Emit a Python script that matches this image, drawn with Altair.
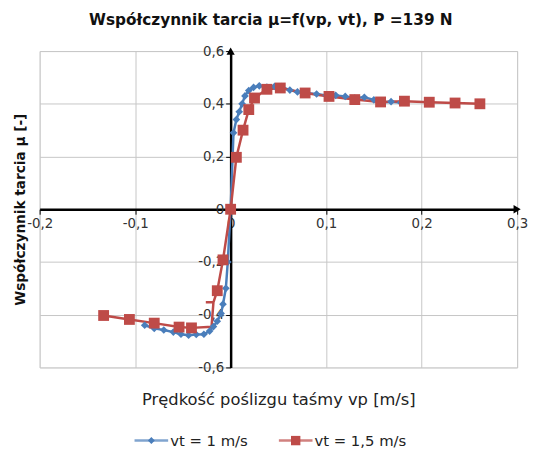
import altair as alt
import pandas as pd

FONT = "DejaVu Sans"

series_names = ["vt = 1 m/s", "vt = 1,5 m/s"]
series_colors = ["#4A7EBB", "#BE4B48"]
series_shapes = ["diamond", "square"]

# vt = 1 m/s
blue_x = [-0.090, -0.080, -0.070, -0.060, -0.052, -0.044, -0.036, -0.028, -0.022, -0.018,
          -0.014, -0.010, -0.008, -0.005, -0.003, 0.000, 0.003, 0.006, 0.009, 0.012,
          0.015, 0.019, 0.024, 0.030, 0.038, 0.046, 0.053, 0.062, 0.070, 0.080,
          0.090, 0.100, 0.110, 0.120, 0.130, 0.140, 0.150, 0.158, 0.168, 0.178]
blue_y = [-0.440, -0.452, -0.458, -0.466, -0.474, -0.478, -0.475, -0.474, -0.462, -0.445,
          -0.425, -0.395, -0.360, -0.300, -0.200, 0.000, 0.290, 0.340, 0.370, 0.400,
          0.430, 0.450, 0.462, 0.468, 0.463, 0.466, 0.465, 0.452, 0.445, 0.440,
          0.437, 0.432, 0.432, 0.428, 0.422, 0.425, 0.415, 0.405, 0.408, 0.405]

# vt = 1,5 m/s
red_x = [-0.133, -0.106, -0.080, -0.054, -0.041, -0.020, -0.018, -0.026, -0.018, -0.014,
         -0.008, 0.000, 0.006, 0.013, 0.019, 0.025, 0.038, 0.052, 0.078, 0.103,
         0.130, 0.157, 0.182, 0.208, 0.235, 0.261]
red_y = [-0.403, -0.418, -0.432, -0.447, -0.450, -0.446, -0.353, -0.353, -0.353, -0.309,
         -0.192, 0.000, 0.197, 0.300, 0.378, 0.422, 0.455, 0.460, 0.441, 0.428,
         0.416, 0.407, 0.410, 0.406, 0.403, 0.400]
red_marker = [True, True, True, True, True, False, False, False, False, True,
              True, True, True, True, True, True, True, True, True, True,
              True, True, True, True, True, True]

x_ticks = [-0.2, -0.1, 0, 0.1, 0.2, 0.3]
y_ticks = [-0.6, -0.4, -0.2, 0, 0.2, 0.4, 0.6]
x_domain = [-0.2, 0.3]
y_domain = [-0.6, 0.6]

rows = []
for i, (x, y) in enumerate(zip(blue_x, blue_y)):
    rows.append({"series": series_names[0], "vp": x, "mu": y, "order": i, "marker": True})
for i, (x, y, m) in enumerate(zip(red_x, red_y, red_marker)):
    rows.append({"series": series_names[1], "vp": x, "mu": y, "order": i, "marker": m})
df = pd.DataFrame(rows)

arrows = pd.DataFrame({"vp": [x_domain[1], 0], "mu": [0, y_domain[1]],
                       "shape": ["triangle-right", "triangle-up"]})

W, H = 483, 320
xs = alt.Scale(domain=x_domain, nice=False, zero=False)
ys = alt.Scale(domain=y_domain, nice=False, zero=False)
cs = alt.Scale(domain=series_names, range=series_colors)
ss = alt.Scale(domain=series_names, range=series_shapes)

label_expr = "datum.value == 0 ? '0' : replace(toString(datum.value), '.', ',')"
GRID = "#C6C6C6"

x_grid_axis = alt.Axis(values=x_ticks, grid=True, gridColor=GRID, gridWidth=1, labels=False,
                       ticks=False, domain=False, orient="bottom", zindex=0,
                       title="Prędkość poślizgu taśmy vp [m/s]", titleFont=FONT,
                       titleFontSize=16.5, titleFontWeight="normal", titleColor="#222222",
                       titlePadding=24)
y_grid_axis = alt.Axis(values=y_ticks, grid=True, gridColor=GRID, gridWidth=1, labels=False,
                       ticks=False, domain=False, orient="left", zindex=0,
                       title="Współczynnik tarcia μ [-]", titleFont=FONT,
                       titleFontSize=13.8, titleFontWeight="bold", titleColor="#111111",
                       titlePadding=12)
x_zero_axis = alt.Axis(values=x_ticks, grid=False, orient="bottom", offset=-H / 2, zindex=0,
                       domainColor="black", domainWidth=2.5, tickColor="black", tickSize=5,
                       tickWidth=1, labelExpr=label_expr, labelFont=FONT, labelFontSize=13.5,
                       labelColor="#333333", labelPadding=2, labelFlush=False,
                       labelOverlap=False, title=None)
y_zero_axis = alt.Axis(values=y_ticks, grid=False, orient="left", offset=-W * 0.4, zindex=0,
                       domainColor="black", domainWidth=2.5, tickColor="black", tickSize=5,
                       tickWidth=1, labelExpr=label_expr, labelFont=FONT, labelFontSize=13.5,
                       labelColor="#333333", labelPadding=2, labelFlush=False,
                       labelAlign="right", labelOverlap=False, title=None)

base = alt.Chart(df)

grid_layer = base.mark_line(opacity=0).encode(
    x=alt.X("vp:Q", scale=xs, axis=x_grid_axis),
    y=alt.Y("mu:Q", scale=ys, axis=y_grid_axis),
    detail="series:N",
)
zero_layer = base.mark_line(opacity=0).encode(
    x=alt.X("vp:Q", scale=xs, axis=x_zero_axis),
    y=alt.Y("mu:Q", scale=ys, axis=y_zero_axis),
    detail="series:N",
)

def line_layer(name):
    return base.transform_filter(alt.datum.series == name).mark_line(
        strokeWidth=2.5, clip=False).encode(
        x=alt.X("vp:Q", scale=xs, axis=None),
        y=alt.Y("mu:Q", scale=ys, axis=None),
        order="order:Q",
        color=alt.Color("series:N", scale=cs, legend=None),
    )

def point_layer(name, size):
    return base.transform_filter((alt.datum.series == name) & alt.datum.marker).mark_point(
        filled=True, opacity=1, size=size, strokeWidth=0.6, clip=False).encode(
        x=alt.X("vp:Q", scale=xs, axis=None),
        y=alt.Y("mu:Q", scale=ys, axis=None),
        color=alt.Color("series:N", scale=cs, legend=None),
        shape=alt.Shape("series:N", scale=ss, legend=None),
    )

arrow_layer = alt.Chart(arrows).mark_point(filled=True, color="black", size=70, opacity=1,
                                           clip=False).encode(
    x=alt.X("vp:Q", scale=xs, axis=None),
    y=alt.Y("mu:Q", scale=ys, axis=None),
    shape=alt.Shape("shape:N", scale=None, legend=None),
)

main = alt.layer(
    grid_layer, zero_layer,
    line_layer(series_names[0]), line_layer(series_names[1]),
    point_layer(series_names[0], 60), point_layer(series_names[1], 120),
    arrow_layer,
).resolve_axis(x="independent", y="independent").properties(width=W, height=H)

legend_df = pd.DataFrame({"series": series_names})
leg_x = alt.X("series:N",
              scale=alt.Scale(type="band", domain=series_names, range=[40, 332],
                              paddingInner=0, paddingOuter=0),
              axis=None)
leg_base = alt.Chart(legend_df)
leg_line = leg_base.mark_tick(orient="horizontal", size=34, thickness=2.5).encode(
    x=leg_x, y=alt.value(10), color=alt.Color("series:N", scale=cs, legend=None))
leg_point = leg_base.mark_point(filled=True, opacity=1).encode(
    x=leg_x, y=alt.value(10),
    color=alt.Color("series:N", scale=cs, legend=None),
    shape=alt.Shape("series:N", scale=ss, legend=None),
    size=alt.Size("series:N", scale=alt.Scale(domain=series_names, range=[50, 90]), legend=None))
leg_text = leg_base.mark_text(align="left", baseline="middle", dx=19, font=FONT,
                              fontSize=15, color="#222222").encode(
    x=leg_x, y=alt.value(10), text="series:N")
legend = alt.layer(leg_line, leg_point, leg_text).properties(
    width=W, height=20, view=alt.ViewBackground(stroke="transparent"))

chart = alt.vconcat(main, legend, spacing=22).properties(
    title=alt.Title("Współczynnik tarcia μ=f(vp, vt), P =139 N", font=FONT, fontSize=15.5,
                    fontWeight="bold", color="#111111", offset=15, anchor="middle"),
    padding={"left": 5, "top": 3, "right": 0, "bottom": 0},
).configure_view(stroke=GRID).configure(background="white")

chart.save("out.html", embed_options={"renderer": "svg", "actions": False})
